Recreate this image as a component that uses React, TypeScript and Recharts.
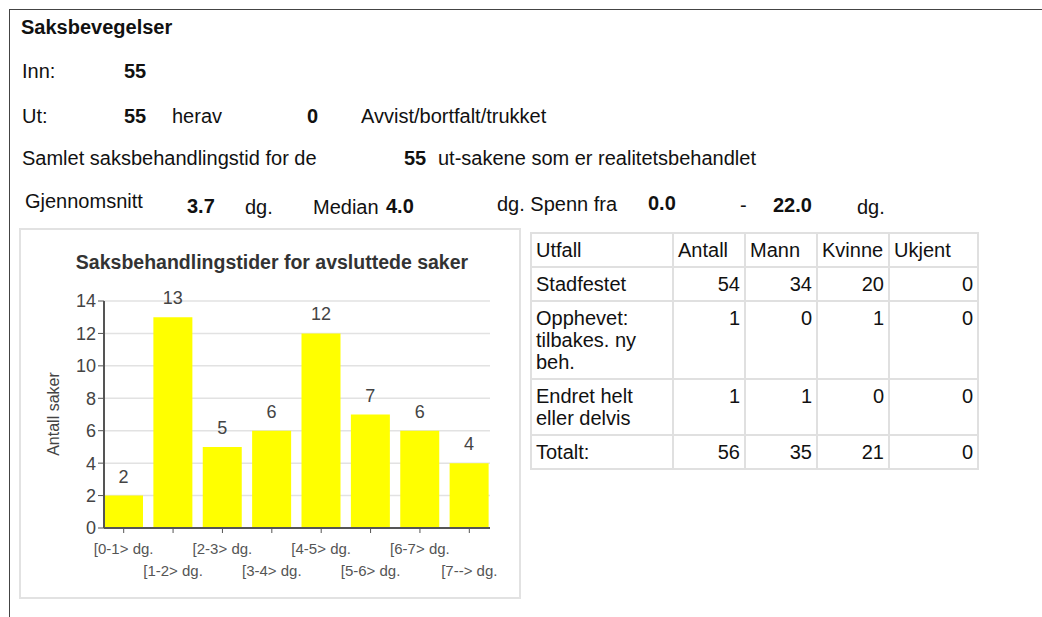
import React from "react"
import { BarChart, Bar, XAxis, YAxis, CartesianGrid, LabelList } from "recharts"

// Chart data
const ranges = [
  "[0-1> dg.",
  "[1-2> dg.",
  "[2-3> dg.",
  "[3-4> dg.",
  "[4-5> dg.",
  "[5-6> dg.",
  "[6-7> dg.",
  "[7--> dg.",
]
const counts = [2, 13, 5, 6, 12, 7, 6, 4]
const yTicks = [0, 2, 4, 6, 8, 10, 12, 14]

// Table data
const tableHeaders = ["Utfall", "Antall", "Mann", "Kvinne", "Ukjent"]
const rowLabels = ["Stadfestet", "Opphevet: tilbakes. ny beh.", "Endret helt eller delvis", "Totalt:"]
const antall = [54, 1, 1, 56]
const mann = [34, 0, 1, 35]
const kvinne = [20, 1, 0, 21]
const ukjent = [0, 0, 0, 0]

const chartData = ranges.map((range, i) => ({ range, value: counts[i] }))

const FONT = "'Liberation Sans', Arial, sans-serif"

const StaggerTick = (props: any) => {
  const { x, y, payload, index } = props
  const dy = index % 2 === 0 ? 19 : 41
  return (
    <text x={x} y={y} dy={dy} textAnchor="middle" fill="#555" fontSize={15} fontFamily={FONT}>
      {payload.value}
    </text>
  )
}

const txt = (left: number, top: number, text: string, bold = false) => (
  <div
    style={{
      position: "absolute",
      left,
      top,
      fontSize: 20,
      lineHeight: "22px",
      fontWeight: bold ? "bold" : "normal",
      whiteSpace: "nowrap",
      color: "#111",
    }}
  >
    {text}
  </div>
)

export default function App() {
  const cell = (align: "left" | "right"): React.CSSProperties => ({
    border: "2px solid #e0e0e0",
    padding: "5px 4px",
    textAlign: align,
    verticalAlign: "top",
    lineHeight: "22px",
  })

  return (
    <div
      style={{
        position: "absolute",
        left: 0,
        top: 0,
        width: 1042,
        height: 617,
        overflow: "hidden",
        background: "#fff",
        fontFamily: FONT,
      }}
    >
      {/* page frame */}
      <div
        style={{
          position: "absolute",
          left: 9,
          top: 9,
          width: 1100,
          height: 700,
          borderLeft: "1px solid #444",
          borderTop: "1px solid #444",
        }}
      />

      {txt(21, 16, "Saksbevegelser", true)}
      {txt(22, 60, "Inn:")}
      {txt(124, 60, "55", true)}
      {txt(22, 105, "Ut:")}
      {txt(124, 105, "55", true)}
      {txt(172, 105, "herav")}
      {txt(307, 105, "0", true)}
      {txt(361, 105, "Avvist/bortfalt/trukket")}
      {txt(22, 147, "Samlet saksbehandlingstid for de")}
      {txt(404, 147, "55", true)}
      {txt(438, 147, "ut-sakene som er realitetsbehandlet")}
      {txt(25, 190, "Gjennomsnitt")}
      {txt(187, 195, "3.7", true)}
      {txt(245, 196, "dg.")}
      {txt(313, 196, "Median")}
      {txt(386, 195, "4.0", true)}
      {txt(497, 193, "dg. Spenn fra")}
      {txt(648, 192, "0.0", true)}
      {txt(740, 194, "-")}
      {txt(773, 194, "22.0", true)}
      {txt(857, 196, "dg.")}

      {/* chart box */}
      <div
        style={{
          position: "absolute",
          left: 19,
          top: 228,
          width: 498,
          height: 367,
          border: "2px solid #e2e2e2",
          boxSizing: "content-box",
        }}
      >
        <div
          style={{
            position: "absolute",
            left: 0,
            top: 20,
            width: 498,
            textAlign: "center",
            fontSize: 19.5,
            fontWeight: "bold",
            color: "#333",
            lineHeight: "24px",
            paddingLeft: 4,
            boxSizing: "border-box",
          }}
        >
          Saksbehandlingstider for avsluttede saker
        </div>
        <div style={{ position: "absolute", left: 0, top: 0 }}>
          <BarChart
            width={498}
            height={367}
            data={chartData}
            margin={{ top: 71, right: 29, left: 0, bottom: 0 }}
          >
            <CartesianGrid vertical={false} stroke="#e2e2e2" strokeWidth={1.5} />
            <XAxis
              dataKey="range"
              interval={0}
              height={69}
              tickSize={5}
              padding={{ left: -5, right: -4 }}
              axisLine={{ stroke: "#555", strokeWidth: 2 }}
              tickLine={{ stroke: "#555" }}
              tick={<StaggerTick />}
            />
            <YAxis
              width={83}
              domain={[0, 14]}
              ticks={yTicks}
              interval={0}
              tickSize={6}
              tickMargin={2}
              axisLine={{ stroke: "#555", strokeWidth: 2 }}
              tickLine={{ stroke: "#555" }}
              tick={{ fill: "#444", fontSize: 18, fontFamily: FONT }}
              label={{
                content: () => (
                  <text
                    transform="translate(38,184) rotate(-90)"
                    textAnchor="middle"
                    fill="#444"
                    fontSize={16}
                    fontFamily={FONT}
                  >
                    Antall saker
                  </text>
                ),
              }}
            />
            <Bar dataKey="value" fill="#ffff00" barSize={39} isAnimationActive={false}>
              <LabelList
                dataKey="value"
                position="top"
                offset={13}
                fill="#444"
                fontSize={18}
                fontFamily={FONT}
              />
            </Bar>
          </BarChart>
        </div>
      </div>

      {/* outcome table */}
      <table
        style={{
          position: "absolute",
          left: 530,
          top: 232,
          width: 447,
          borderCollapse: "collapse",
          tableLayout: "fixed",
          fontSize: 20,
          color: "#111",
        }}
      >
        <colgroup>
          <col style={{ width: 142 }} />
          <col style={{ width: 72 }} />
          <col style={{ width: 72 }} />
          <col style={{ width: 72 }} />
          <col style={{ width: 89 }} />
        </colgroup>
        <tbody>
          <tr>
            {tableHeaders.map((h) => (
              <td key={h} style={cell("left")}>
                {h}
              </td>
            ))}
          </tr>
          {rowLabels.map((label, i) => (
            <tr key={label}>
              <td style={cell("left")}>{label}</td>
              <td style={cell("right")}>{antall[i]}</td>
              <td style={cell("right")}>{mann[i]}</td>
              <td style={cell("right")}>{kvinne[i]}</td>
              <td style={cell("right")}>{ukjent[i]}</td>
            </tr>
          ))}
        </tbody>
      </table>
    </div>
  )
}
